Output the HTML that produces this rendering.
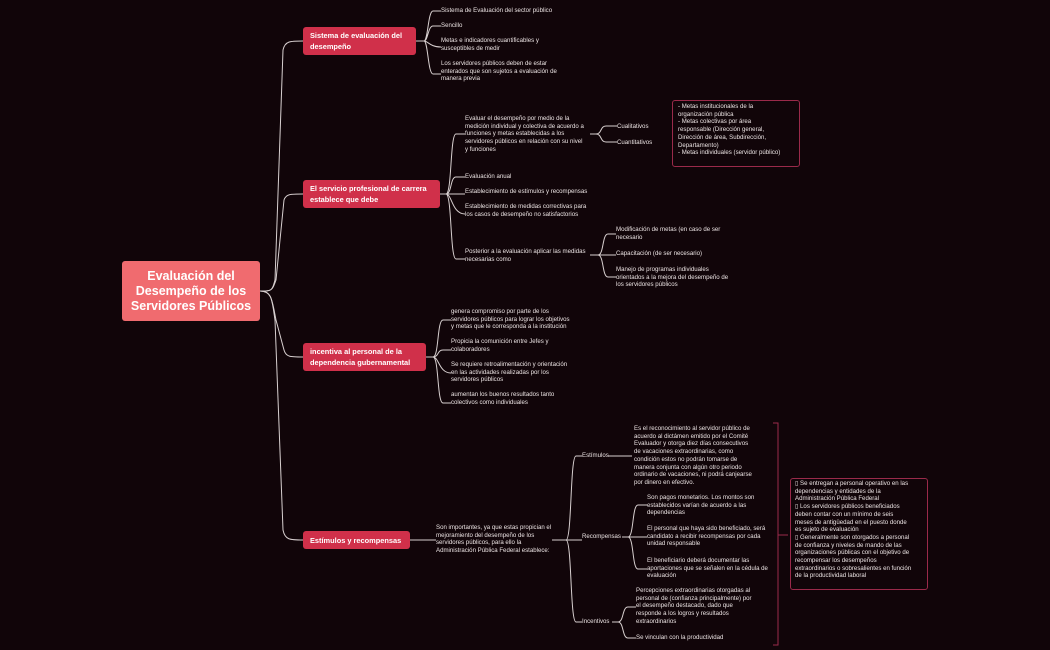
<!DOCTYPE html>
<html><head><meta charset="utf-8"><style>
body{margin:0;width:1050px;height:650px;background:#110509;overflow:hidden;position:relative;font-family:"Liberation Sans",sans-serif}
.t{position:absolute;color:#ece4e4;font-size:6.1px;line-height:7.7px;white-space:nowrap}
.n{position:absolute;background:#d0304a;color:#fff;font-weight:bold;font-size:7.4px;line-height:11px;border-radius:3px;padding:0 7px;box-sizing:border-box;display:flex;flex-direction:column;justify-content:center;white-space:nowrap}
svg{position:absolute;left:0;top:0}
</style></head><body>
<svg width="1050" height="650" fill="none" stroke="#d8d0d0" stroke-width="1">
<path d="M260 291 C272 291 272 291 275 280 L283 50 C285 41 290 41 303 41"/>
<path d="M260 291 C272 291 272 291 276 280 L284 200 C286 194 290 194 303 194"/>
<path d="M260 291 C272 291 272 300 276 320 L284 350 C286 357 290 357 303 357"/>
<path d="M260 291 C272 291 272 300 275 320 L283 530 C285 540 290 540 303 540"/>
<path d="M416 41 H424 M424 41 C428 41 428 11 433 11 H441 M424 41 C428 41 428 26 433 26 H441 M424 41 C428 41 430 47 441 47 M424 41 C428 41 428 74 433 74 H441"/>
<path d="M440 194 H446 M446 194 C452 194 450 134 456 134 H465 M446 194 C452 194 450 177 456 177 H465 M446 194 H465 M446 194 C452 194 452 214 465 214 M446 194 C452 194 450 259 456 259 H465"/>
<path d="M590 134 H596 M596 134 C602 134 600 126 606 126 H617 M596 134 C602 134 600 142 606 142 H617"/>
<path d="M590 255 H598 M598 255 C604 255 602 234 608 234 H616 M598 255 H616 M598 255 C604 255 602 277 608 277 H616"/>
<path d="M426 357 H433 M433 357 C439 357 437 320 443 320 H451 M433 357 C439 357 437 350 443 350 H451 M433 357 C439 357 439 373 451 373 M433 357 C439 357 437 403 443 403 H451"/>
<path d="M410 540 H436 M552 540 H566 M566 540 C572 540 570 456 576 456 H582 M566 540 H582 M566 540 C572 540 570 622 576 622 H582"/>
<path d="M608 456 H632"/>
<path d="M622 537 H628 M628 537 C634 537 632 505 638 505 H647 M628 537 H647 M628 537 C634 537 632 569 638 569 H647"/>
<path d="M612 622 H618 M618 622 C624 622 622 607 628 607 H636 M618 622 C624 622 622 638 628 638 H636"/>
<path d="M773 423 H778 V645 H773 M778 535 H788" stroke="#9a2a4a"/>
</svg>
<div class="n" style="left:122px;top:261px;width:138px;height:60px;background:#f06b6f;font-size:12.5px;line-height:15px;align-items:center;text-align:center">Evaluación del<br>Desempeño de los<br>Servidores Públicos</div>
<div class="n" style="left:303px;top:27px;width:113px;height:28px">Sistema de evaluación del<br>desempeño</div>
<div class="n" style="left:303px;top:180px;width:137px;height:28px">El servicio profesional de carrera<br>establece que debe</div>
<div class="n" style="left:303px;top:343px;width:123px;height:28px">incentiva al personal de la<br>dependencia gubernamental</div>
<div class="n" style="left:303px;top:531px;width:107px;height:18px">Estímulos y recompensas</div>

<div class="t" style="left:441px;top:7px">Sistema de Evaluación del sector público</div>
<div class="t" style="left:441px;top:22px">Sencillo</div>
<div class="t" style="left:441px;top:37px">Metas e indicadores cuantificables y<br>susceptibles de medir</div>
<div class="t" style="left:441px;top:60px">Los servidores públicos deben de estar<br>enterados que son sujetos a evaluación de<br>manera previa</div>

<div class="t" style="left:465px;top:115px">Evaluar el desempeño por medio de la<br>medición individual y colectiva de acuerdo a<br>funciones y metas establecidas a los<br>servidores públicos en relación con su nivel<br>y funciones</div>
<div class="t" style="left:465px;top:173px">Evaluación anual</div>
<div class="t" style="left:465px;top:188px">Establecimiento de estímulos y recompensas</div>
<div class="t" style="left:465px;top:203px">Establecimiento de medidas correctivas para<br>los casos de desempeño no satisfactorios</div>
<div class="t" style="left:465px;top:248px">Posterior a la evaluación aplicar las medidas<br>necesarias como</div>
<div class="t" style="left:617px;top:123px">Cualitativos</div>
<div class="t" style="left:617px;top:139px">Cuantitativos</div>
<div style="position:absolute;left:672px;top:100px;width:128px;height:67px;border:1px solid #9a2a4a;border-radius:3px;box-sizing:border-box"></div>
<div class="t" style="left:678px;top:103px">- Metas institucionales de la<br>organización pública<br>- Metas colectivas por área<br>responsable (Dirección general,<br>Dirección de área, Subdirección,<br>Departamento)<br>- Metas individuales (servidor público)</div>
<div class="t" style="left:616px;top:226px">Modificación de metas (en caso de ser<br>necesario</div>
<div class="t" style="left:616px;top:250px">Capacitación (de ser necesario)</div>
<div class="t" style="left:616px;top:266px">Manejo de programas individuales<br>orientados a la mejora del desempeño  de<br>los servidores públicos</div>

<div class="t" style="left:451px;top:308px">genera compromiso por parte de los<br>servidores públicos para lograr los objetivos<br>y metas que le corresponda a la institución</div>
<div class="t" style="left:451px;top:338px">Propicia la comunición entre Jefes y<br>colaboradores</div>
<div class="t" style="left:451px;top:361px">Se requiere retroalimentación y orientación<br>en las actividades realizadas por los<br>servidores públicos</div>
<div class="t" style="left:451px;top:391px">aumentan los buenos resultados tanto<br>colectivos como individuales</div>

<div class="t" style="left:436px;top:524px">Son importantes, ya que estas propician el<br>mejoramiento del desempeño de los<br>servidores públicos, para ello la<br>Administración Pública Federal establece:</div>
<div class="t" style="left:582px;top:452px">Estímulos</div>
<div class="t" style="left:582px;top:533px">Recompensas</div>
<div class="t" style="left:582px;top:618px">Incentivos</div>
<div class="t" style="left:634px;top:425px">Es el reconocimiento al servidor público de<br>acuerdo al dictámen emitido por el Comité<br>Evaluador y otorga diez días consecutivos<br>de vacaciones extraordinarias, como<br>condición estos no podrán tomarse de<br>manera conjunta con algún otro periodo<br>ordinario de vacaciones, ni podrá canjearse<br>por dinero en efectivo.</div>
<div class="t" style="left:647px;top:494px">Son pagos monetarios. Los montos son<br>establecidos varían de acuerdo a las<br>dependencias</div>
<div class="t" style="left:647px;top:525px">El personal que haya sido beneficiado, será<br>candidato a recibir recompensas por cada<br>unidad responsable</div>
<div class="t" style="left:647px;top:557px">El beneficiario deberá documentar las<br>aportaciones que se señalen en la cédula de<br>evaluación</div>
<div class="t" style="left:636px;top:587px">Percepciones extraordinarias otorgadas al<br>personal de (confianza principalmente) por<br>el desempeño destacado, dado que<br>responde a los logros y resultados<br>extraordinarios</div>
<div class="t" style="left:636px;top:634px">Se vinculan con la productividad</div>
<div style="position:absolute;left:790px;top:478px;width:138px;height:112px;border:1px solid #9a2a4a;border-radius:3px;box-sizing:border-box"></div>
<div class="t" style="left:795px;top:480px">▯ Se entregan a personal operativo en las<br>dependencias y entidades de la<br>Administración Pública Federal<br>▯ Los servidores públicos beneficiados<br>deben contar con un mínimo de seis<br>meses de antigüedad en el puesto donde<br>es sujeto de evaluación<br>▯ Generalmente son otorgados a personal<br>de confianza y niveles de mando de las<br>organizaciones públicas con el objetivo de<br>recompensar los desempeños<br>extraordinarios o sobresalientes en función<br>de la productividad laboral</div>
</body></html>
